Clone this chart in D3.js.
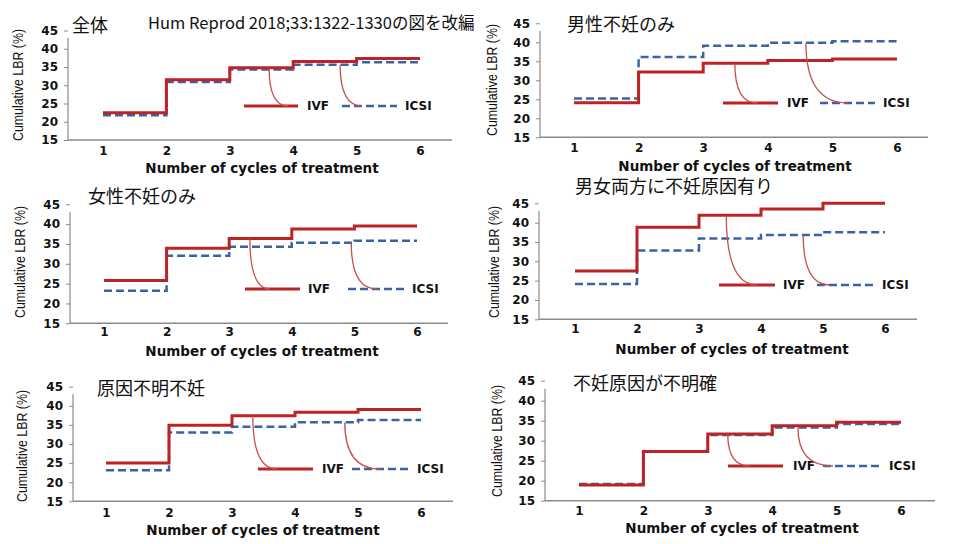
<!DOCTYPE html>
<html><head><meta charset="utf-8">
<script src="https://cdn.jsdelivr.net/npm/d3@7"></script>
<style>body{margin:0;background:#fff}svg{display:block}</style>
</head><body>
<svg id="chart" width="960" height="544"></svg>
<script>
// ---- data ----
const cycles = [1, 2, 3, 4, 5, 6];
const yTicks = [15, 20, 25, 30, 35, 40, 45];
const panelTitles = ["全体", "男性不妊のみ", "女性不妊のみ", "男女両方に不妊原因有り", "原因不明不妊", "不妊原因が不明確"];
const sourceNote = "Hum Reprod 2018;33:1322-1330の図を改編";
const xAxisTitle = "Number of cycles of treatment";
const yAxisTitle = "Cumulative LBR (%)";
const seriesNames = ["IVF", "ICSI"];
// cumulative LBR after cycles 1..5 (each step runs until the next cycle; last runs to cycle 6)
const ivfAll      = [22.5, 31.5, 34.8, 36.5, 37.3];
const icsiAll     = [21.8, 30.9, 34.3, 35.6, 36.3];
const ivfMale     = [24.1, 32.2, 34.5, 35.2, 35.6];
const icsiMale    = [25.2, 36.1, 39.1, 39.9, 40.3];
const ivfFemale   = [25.8, 33.9, 36.4, 38.8, 39.5];
const icsiFemale  = [23.2, 32.0, 34.3, 35.3, 35.8];
const ivfBoth     = [27.5, 38.8, 41.9, 43.5, 45.0];
const icsiBoth    = [24.1, 32.8, 35.9, 36.8, 37.5];
const ivfUnexpl   = [25.0, 34.9, 37.4, 38.3, 39.0];
const icsiUnexpl  = [23.1, 33.0, 34.5, 35.7, 36.3];
const ivfUnclear  = [18.9, 27.3, 31.7, 33.75, 34.6];
const icsiUnclear = [19.2, 27.25, 31.4, 33.3, 34.2];

// ---- layout (positions only) ----
const layouts = [
  {ivf: ivfAll, icsi: icsiAll, x1:103, x6:420, y15:140, y45:30.5, ax:68, axEnd:452, tickY:150, xtX:262, xtY:168, ylX:18, ylY:85, tX:72, tY:25.5,
   legY:106, red:[244,298], ivfX:307, blue:[342,397], icsiX:405, c1:3.62, c2:4.74, e1:288, e2:362},
  {ivf: ivfMale, icsi: icsiMale, x1:574, x6:897, y15:137.3, y45:23.3, ax:540, axEnd:928, tickY:147, xtX:735, xtY:166, ylX:492, ylY:80, tX:567, tY:25,
   legY:103, red:[723,778], ivfX:787, blue:[820,875], icsiX:883, c1:3.49, c2:4.59, e1:757, e2:848},
  {ivf: ivfFemale, icsi: icsiFemale, x1:104, x6:417, y15:323.3, y45:204.3, ax:70, axEnd:448, tickY:331.7, xtX:262, xtY:351.7, ylX:20, ylY:262, tX:88, tY:196.7,
   legY:289, red:[245,300], ivfX:308, blue:[348,405], icsiX:412, c1:3.33, c2:4.95, e1:270, e2:377},
  {ivf: ivfBoth, icsi: icsiBoth, x1:575, x6:885, y15:319.3, y45:203.3, ax:539, axEnd:917, tickY:328, xtX:732, xtY:349, ylX:494, ylY:262, tX:575, tY:187,
   legY:285, red:[719,775], ivfX:783, blue:[817,873], icsiX:882, c1:3.44, c2:4.68, e1:757, e2:830},
  {ivf: ivfUnexpl, icsi: icsiUnexpl, x1:106, x6:421, y15:501.3, y45:386.7, ax:73, axEnd:453, tickY:512, xtX:263, xtY:530.7, ylX:22, ylY:446, tX:97, tY:389,
   legY:469, red:[258,313], ivfX:322, blue:[352,408], icsiX:417, c1:3.33, c2:4.79, e1:277, e2:380},
  {ivf: ivfUnclear, icsi: icsiUnclear, x1:579, x6:901, y15:500.7, y45:380.7, ax:545, axEnd:935, tickY:510, xtX:742, xtY:528, ylX:497, ylY:441, tX:573, tY:384,
   legY:466, red:[728,783], ivfX:793, blue:[823,882], icsiX:889, c1:3.31, c2:4.4, e1:750, e2:833}
];

const RED = "#bd2325", BLUE = "#3a63a5", LEAD = "#c4504c", AXIS = "#8a8a8a";
const svg = d3.select("#chart");

svg.append("text").attr("x", 148).attr("y", 23).attr("dy", "0.35em")
  .attr("font-family", "'Noto Sans CJK JP', 'Noto Sans', sans-serif").attr("font-size", 16.5)
  .attr("fill", "#111").text(sourceNote);

layouts.forEach((L, i) => {
  const g = svg.append("g");
  const x = d3.scaleLinear().domain([cycles[0], cycles[cycles.length - 1]]).range([L.x1, L.x6]);
  const y = d3.scaleLinear().domain([15, 45]).range([L.y15, L.y45]);

  // axes lines
  g.append("line").attr("x1", L.ax).attr("x2", L.axEnd).attr("y1", L.y15).attr("y2", L.y15)
    .attr("stroke", AXIS).attr("stroke-width", 1.5);
  g.append("line").attr("x1", L.ax).attr("x2", L.ax).attr("y1", L.y15).attr("y2", y(43))
    .attr("stroke", AXIS).attr("stroke-width", 1.2);

  // y axis ticks & labels
  const ya = g.append("g").attr("transform", `translate(${L.ax},0)`)
    .call(d3.axisLeft(y).tickValues(yTicks).tickFormat(d3.format("d")).tickSize(4).tickPadding(6));
  ya.select(".domain").remove();
  ya.selectAll(".tick line").attr("stroke", AXIS);
  ya.selectAll(".tick text").attr("font-family", "'DejaVu Sans', sans-serif").attr("font-weight", "bold")
    .attr("font-size", 12).attr("fill", "#111");

  // x axis labels
  const xa = g.append("g").attr("transform", `translate(0,${L.y15})`)
    .call(d3.axisBottom(x).tickValues(cycles).tickFormat(d3.format("d")).tickSize(0).tickPadding(L.tickY - L.y15 - 4));
  xa.select(".domain").remove();
  xa.selectAll(".tick text").attr("font-family", "'DejaVu Sans', sans-serif").attr("font-weight", "bold")
    .attr("font-size", 12).attr("fill", "#111");

  // axis titles
  g.append("text").attr("x", L.xtX).attr("y", L.xtY).attr("dy", "0.35em").attr("text-anchor", "middle")
    .attr("font-family", "'DejaVu Sans', sans-serif").attr("font-weight", "bold").attr("font-size", 13.5)
    .attr("fill", "#111").text(xAxisTitle);
  g.append("text").attr("transform", `translate(${L.ylX},${L.ylY}) rotate(-90)`).attr("dy", "0.35em")
    .attr("text-anchor", "middle").attr("font-family", "'Liberation Sans', Arial, sans-serif")
    .attr("font-size", 15).attr("textLength", 112).attr("lengthAdjust", "spacingAndGlyphs")
    .attr("fill", "#111").text(yAxisTitle);

  // panel title
  g.append("text").attr("x", L.tX).attr("y", L.tY).attr("dy", "0.35em")
    .attr("font-family", "'Noto Sans CJK JP', sans-serif").attr("font-size", 18)
    .attr("fill", "#111").text(panelTitles[i]);

  // step lines
  const pts = s => s.map((v, k) => [cycles[k], v]).concat([[cycles[cycles.length - 1], s[s.length - 1]]]);
  const line = d3.line().x(d => x(d[0])).y(d => y(d[1])).curve(d3.curveStepAfter);
  g.append("path").attr("d", line(pts(L.icsi))).attr("fill", "none").attr("stroke", BLUE)
    .attr("stroke-width", 2.5).attr("stroke-dasharray", "8,4");
  g.append("path").attr("d", line(pts(L.ivf))).attr("fill", "none").attr("stroke", RED)
    .attr("stroke-width", 3);

  // legend
  g.append("line").attr("x1", L.red[0]).attr("x2", L.red[1]).attr("y1", L.legY).attr("y2", L.legY)
    .attr("stroke", RED).attr("stroke-width", 3);
  g.append("line").attr("x1", L.blue[0]).attr("x2", L.blue[1]).attr("y1", L.legY).attr("y2", L.legY)
    .attr("stroke", BLUE).attr("stroke-width", 2.5).attr("stroke-dasharray", "8,4");
  [[L.ivfX, seriesNames[0]], [L.icsiX, seriesNames[1]]].forEach(([tx, t]) => {
    g.append("text").attr("x", tx).attr("y", L.legY).attr("dy", "0.36em")
      .attr("font-family", "'DejaVu Sans', sans-serif").attr("font-weight", "bold").attr("font-size", 12)
      .attr("fill", "#111").text(t);
  });

  // leader curves from series lines to legend
  const lead = (c, s, ex) => {
    const sx = x(c), sy = y(s[Math.floor(c) - 1]);
    return `M${sx},${sy} Q${sx},${L.legY} ${ex},${L.legY}`;
  };
  g.append("path").attr("d", lead(L.c1, L.ivf, L.e1)).attr("fill", "none").attr("stroke", LEAD).attr("stroke-width", 1.3);
  g.append("path").attr("d", lead(L.c2, L.icsi, L.e2)).attr("fill", "none").attr("stroke", LEAD).attr("stroke-width", 1.3);
});
</script>
</body></html>
